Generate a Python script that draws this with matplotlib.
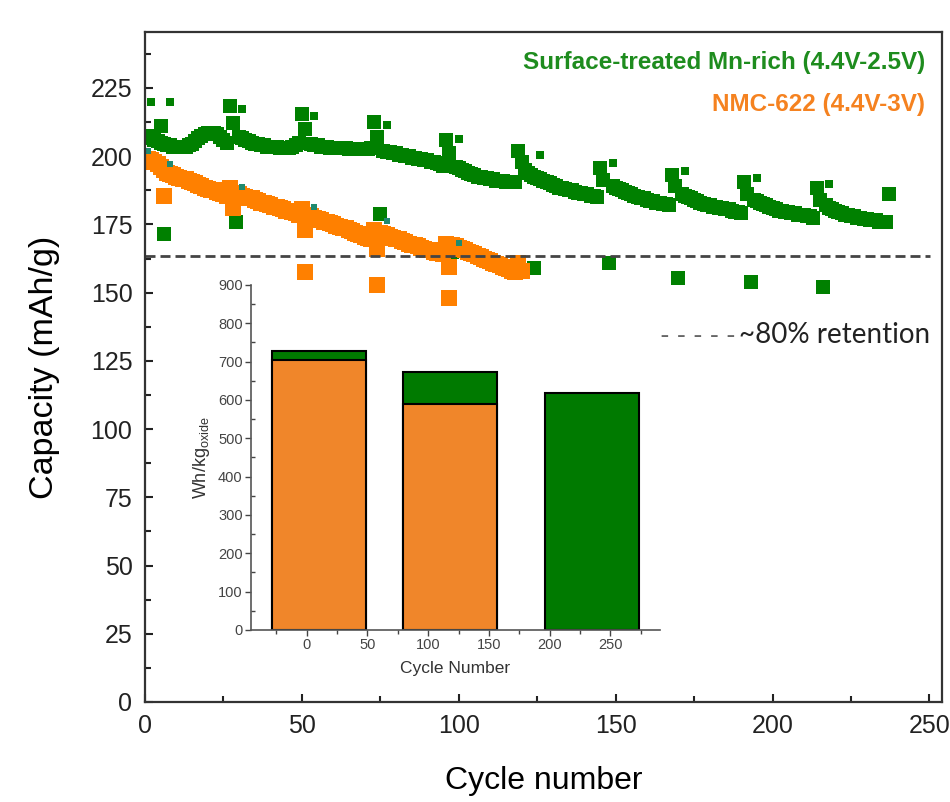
import numpy as np
import matplotlib.pyplot as plt
from matplotlib.ticker import MultipleLocator

# --- surface-treated Mn-rich, main curve (segments between diagnostic cycles) ---
mn_cycles = np.concatenate([np.arange(1, 27), np.arange(30, 50), np.arange(53, 73),
                            np.arange(76, 96), np.arange(99, 119), np.arange(122, 145),
                            np.arange(149, 168), np.arange(171, 191), np.arange(194, 214),
                            np.arange(217, 237)])
mn_cap = [
    207.5, 206.5, 206, 205.5, 205, 204.5, 204, 204, 203.5, 203.5, 203.5, 203.5, 203.5, 204,
    204.5, 205.5, 206.5, 207.5, 208, 208.5, 208.5, 208.5, 208, 207, 206, 205,
    207, 206.5, 206, 205.5, 205, 204.5, 204.5, 204, 204, 203.5, 203.5, 203.5, 203.5,
    203, 203, 203, 203, 203.5, 204, 205,
    204.5, 204, 204, 203.5, 203.5, 203.5, 203, 203, 203, 203, 203, 203, 202.5, 202.5,
    202.5, 202.5, 202.5, 202.5, 202.5, 203,
    202, 201.5, 201.5, 201, 201, 200.5, 200.5, 200, 200, 199.5, 199.5, 199, 199, 198.5,
    198.5, 198, 198, 197.5, 197, 196.5,
    196, 195.5, 195, 194.5, 194, 193.5, 193, 192.5, 192.5, 192, 192, 191.5, 191.5, 191,
    191, 191, 190.5, 190.5, 190.5, 190.5,
    194, 193, 192.5, 192, 191.5, 191, 190.5, 190, 189.5, 189, 188.5, 188.5, 188, 187.5,
    187.5, 187, 186.5, 186.5, 186, 186, 185.5, 185.5, 185,
    189, 188.5, 188, 187.5, 187, 186.5, 186, 185.5, 185, 184.5, 184.5, 184, 183.5, 183.5,
    183, 183, 182.5, 182.5, 182,
    186, 185.5, 185, 184.5, 184, 183.5, 183, 182.5, 182, 182, 181.5, 181.5, 181, 181,
    180.5, 180.5, 180, 179.5, 179.5, 179,
    184, 183.5, 183, 182.5, 182, 181.5, 181, 180.5, 180, 180, 179.5, 179.5, 179, 179,
    178.5, 178.5, 178.5, 178, 178, 177.5,
    182, 181, 180.5, 180, 179.5, 179, 178.5, 178.5, 178, 178, 177.5, 177.5, 177, 177,
    176.5, 176.5, 176.5, 176, 176, 176,
]
# diagnostic-cycle points
mn_spike_cycles = [5, 27, 28, 50, 51, 73, 74, 96, 97, 119, 120, 121, 145, 146, 168, 169,
                   191, 192, 214, 215, 237]
mn_spike_cap = [211, 218.4, 212, 215.5, 210, 212.6, 207, 206, 201, 202, 198, 195, 195.8,
                191.3, 193.1, 189, 190.7, 186, 188.2, 184, 186.2]
mn_low_cycles = [6, 29, 52, 75, 98, 124, 148, 170, 193, 216]
mn_low_cap = [171.4, 176, 178, 178.8, 165, 158.9, 161, 155.5, 154, 152.2]
mn_small_cycles = [2, 8, 31, 54, 77, 100, 126, 149, 172, 195, 218]
mn_small_cap = [220, 220, 217.3, 214.7, 211.6, 206.2, 200.4, 197.4, 194.6, 192.1, 189.7]
teal_cycles = [1, 8, 31, 54, 77, 100]
teal_cap = [202, 197, 188.6, 181.5, 176.2, 168.3]

# --- NMC-622 ---
nmc_cycles = np.concatenate([np.arange(1, 27), np.arange(29, 50), np.arange(52, 73),
                             np.arange(75, 96), np.arange(98, 119)])
nmc_cap = [
    199, 198.5, 198, 197, 196, 195, 194, 193.5, 193, 192.5, 192, 191.5, 191.5, 191,
    190.5, 190, 189.5, 189, 188.5, 188, 187.5, 187.5, 187, 186.5, 186, 185.5,
    186.5, 186, 185.5, 185, 184.5, 184.5, 184, 183.5, 183, 183, 182.5, 182, 181.5, 181.5,
    181, 180.5, 180, 180, 179.5, 179, 178.5,
    178.5, 178, 177.5, 177, 176.5, 176, 176, 175.5, 175, 174.5, 174, 173.5, 173.5, 173,
    172.5, 172, 171.5, 171, 170.5, 170, 169.5,
    172, 171.5, 171, 170.5, 170, 169.5, 169.5, 169, 168.5, 168, 167.5, 167.5, 167, 166.5,
    166, 165.5, 165.5, 165, 164.5, 164.5, 164,
    167.5, 167, 166.5, 166, 165.5, 165, 164.5, 164, 163.5, 163, 162.5, 162, 161.5, 161,
    160.5, 160, 159.5, 159, 158.5, 158, 157.5,
]
nmc_spike_cycles = [6, 27, 28, 50, 51, 73, 74, 96, 97, 119, 120]
nmc_spike_cap = [185.4, 188.5, 181, 180.5, 173, 173, 166, 168, 159.5, 161, 158]
nmc_low_cycles = [51, 74, 97]
nmc_low_cap = [157.7, 152.8, 148.2]

retention = 163.4

# --- inset: energy density ---
bar_cycles = [10, 118, 235]
mn_wh = [727, 672, 618]
nmc_wh = [705, 589]

green = '#008000'
orange = '#FF8000'

fig = plt.figure(figsize=(9.5, 8.02), dpi=100)
ax = fig.add_axes([0.1526, 0.1247, 0.839, 0.8354])

ms_g = 9.5
ms_o = 11
ax.plot(mn_cycles, mn_cap, 's', color=green, ms=10.5, mew=0)
ax.plot(mn_spike_cycles, mn_spike_cap, 's', color=green, ms=ms_g, mew=0)
ax.plot(mn_low_cycles, mn_low_cap, 's', color=green, ms=ms_g, mew=0)
ax.plot(nmc_cycles, nmc_cap, 's', color=orange, ms=12, mew=0)
ax.plot(nmc_spike_cycles, nmc_spike_cap, 's', color=orange, ms=ms_o, mew=0)
ax.plot(nmc_low_cycles, nmc_low_cap, 's', color=orange, ms=ms_o, mew=0)
ax.plot(mn_small_cycles, mn_small_cap, 's', color=green, ms=5.8, mew=0)
ax.plot(teal_cycles, teal_cap, 's', color='#1f8a70', ms=4.8, mew=0)

ax.axhline(retention, xmin=0, xmax=0.985, color='#444444', lw=2,
           linestyle=(0, (3.6, 1.8)))

ax.set_xlim(0, 254)
ax.set_ylim(0, 245.5)
ax.xaxis.set_major_locator(MultipleLocator(50))
ax.xaxis.set_minor_locator(MultipleLocator(25))
ax.yaxis.set_major_locator(MultipleLocator(25))
ax.yaxis.set_minor_locator(MultipleLocator(12.5))
ax.set_yticks(np.arange(0, 226, 25))
ax.tick_params(which='major', direction='in', length=6, width=1.5, labelsize=18,
               pad=9, colors='#222222')
ax.tick_params(which='minor', direction='in', length=4, width=1.5, colors='#222222')
for lab in ax.get_xticklabels() + ax.get_yticklabels():
    lab.set_family('Liberation Sans')
for s in ax.spines.values():
    s.set_linewidth(1.6)
    s.set_color('#333333')

ax.set_xlabel('Cycle number', fontsize=23, family='Liberation Sans', labelpad=20)
ax.set_ylabel('Capacity (mAh/g)', fontsize=24.5, family='Liberation Sans', labelpad=22)

fig.text(925 / 950, 1 - 63 / 802, 'Surface-treated Mn-rich (4.4V-2.5V)', ha='right',
         va='center', fontsize=17.5, fontweight='bold', color='#1E8C1E',
         family='Liberation Sans')
fig.text(925 / 950, 1 - 105 / 802, 'NMC-622 (4.4V-3V)', ha='right', va='center',
         fontsize=17.5, fontweight='bold', color='#F58220', family='Liberation Sans')
fig.text(660 / 950, 1 - 336 / 802, '- - - - -', ha='left', va='center', fontsize=19,
         color='#666666', family='Lato')
fig.text(930 / 950, 1 - 335 / 802, '~80% retention', ha='right', va='center',
         fontsize=20, color='#222222', family='Lato')

# inset
ax2 = fig.add_axes([0.2642, 0.2145, 0.4305, 0.4302])
ax2.set_facecolor('none')
ax2.bar(bar_cycles, mn_wh, width=78, color='#007A00', edgecolor='black', lw=1.5)
ax2.bar(bar_cycles[:2], nmc_wh, width=78, color='#F0862A', edgecolor='black', lw=1.5)
ax2.set_xlim(-46, 291)
ax2.set_ylim(0, 900)
ax2.xaxis.set_major_locator(MultipleLocator(50))
ax2.xaxis.set_minor_locator(MultipleLocator(25))
ax2.set_xticks(np.arange(0, 251, 50))
ax2.yaxis.set_major_locator(MultipleLocator(100))
ax2.yaxis.set_minor_locator(MultipleLocator(50))
ax2.spines['top'].set_visible(False)
ax2.spines['right'].set_visible(False)
for s in ['left', 'bottom']:
    ax2.spines[s].set_color('#555555')
    ax2.spines[s].set_linewidth(1.2)
ax2.tick_params(which='major', direction='out', length=4, width=1, labelsize=10.5,
                colors='#444444', pad=2)
ax2.tick_params(which='minor', direction='out', length=3, width=1, colors='#444444')
ax2.tick_params(axis='y', which='minor', direction='in')
for lab in ax2.get_xticklabels() + ax2.get_yticklabels():
    lab.set_family('Liberation Sans')
ax2.set_xlabel('Cycle Number', fontsize=12.5, color='#333333', labelpad=6,
               family='Liberation Sans')
ax2.set_ylabel('Wh/kg$_{\\mathregular{oxide}}$', fontsize=13, color='#333333',
               labelpad=4, family='Liberation Sans')

fig.savefig('out.png', dpi=100)
